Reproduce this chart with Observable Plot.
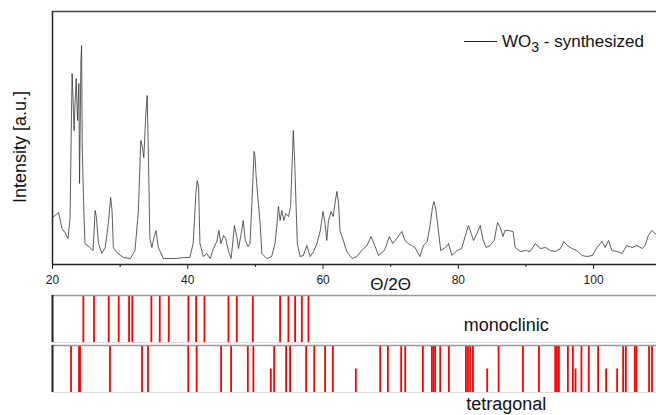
<!DOCTYPE html>
<html>
<head>
<meta charset="utf-8">
<script src="https://cdn.jsdelivr.net/npm/d3@7"></script>
<script src="https://cdn.jsdelivr.net/npm/@observablehq/plot@0.6"></script>
<style>
  html, body { margin: 0; padding: 0; background: #fff; overflow: hidden; }
  #wrap { position: relative; width: 656px; height: 415px; overflow: hidden; font-family: "Liberation Sans", Arial, sans-serif; }
  #wrap svg { display: block; }
  #legend { position: absolute; left: 464px; top: 33px; font-size: 17px; line-height: 17px; white-space: nowrap; color: #111; }
  #legend .sw { display: inline-block; width: 33px; height: 0; border-top: 1px solid #222; vertical-align: 5px; margin-right: 5px; }
  #legend sub { font-size: 14px; line-height: 0; vertical-align: -5px; }
</style>
</head>
<body>
<div id="wrap">
  <div id="main"></div>
  <div id="mono"></div>
  <div id="tetra"></div>
  <div id="legend"><span class="sw"></span>WO<sub>3</sub> - synthesized</div>
</div>
<script>
// ---- data ----
const twoTheta = [20.0,20.9,21.4,21.85,22.3,22.6,22.8,22.9,23.2,23.3,23.5,23.7,23.9,24.0,24.2,24.3,24.4,24.6,24.8,25.5,26.0,26.3,26.5,26.8,27.3,27.8,28.25,28.6,28.8,29.0,29.5,30.5,31.5,32.2,32.7,33.05,33.3,33.5,33.8,34.0,34.2,34.4,34.7,35.0,35.3,35.65,36.4,37.4,38.4,39.35,40.3,40.8,41.2,41.4,41.6,41.8,42.3,42.8,43.3,43.8,44.3,44.6,44.9,45.3,45.6,46.0,46.4,46.6,46.9,47.25,47.5,47.9,48.2,48.5,48.9,49.2,49.5,49.8,49.95,50.1,50.35,50.7,50.95,51.7,52.4,52.9,53.2,53.4,53.65,53.9,54.2,54.5,54.9,55.2,55.5,55.6,55.8,56.0,56.2,56.6,57.1,57.6,58.1,58.6,59.1,59.6,60.0,60.3,60.55,60.8,61.2,61.5,61.8,62.05,62.3,62.5,63.0,63.5,64.3,65.0,65.7,66.5,67.1,67.7,68.2,68.9,69.2,69.8,70.3,70.9,71.65,72.1,72.6,73.1,73.6,74.3,74.85,75.4,75.8,76.2,76.4,76.7,77.1,77.4,78.1,78.55,79.05,79.8,80.5,81.0,81.5,81.9,82.25,82.75,83.25,83.6,84.1,84.7,85.3,85.8,86.2,86.6,86.9,87.4,88.1,88.4,89.2,89.9,90.6,91.4,92.1,92.9,93.6,94.3,95.1,95.6,96.1,96.8,97.5,98.3,99.0,99.8,100.5,101.25,101.7,102.2,102.7,103.5,104.2,104.9,105.7,106.4,107.2,107.6,108.1,108.6,109.1,109.5];
const intensity = [47,52,36,32,26,47,147,191,134,156,186,144,181,81,204,219,117,61,21,17,14,54,47,21,11,17,41,67,54,17,12,7,6,14,54,124,117,107,151,169,101,26,17,27,34,17,6,6,6,7,7,21,71,84,78,21,8,11,6,16,23,34,21,29,26,14,6,18,39,28,16,31,44,24,18,21,64,113,108,89,68,41,11,6,8,21,41,58,44,54,44,51,48,58,114,134,104,61,21,8,9,19,8,13,21,34,53,41,24,44,53,48,63,73,61,34,24,13,6,8,14,19,28,18,9,13,16,28,21,26,33,24,21,19,17,8,19,23,38,58,63,54,31,14,17,21,9,14,16,28,39,31,24,31,39,26,17,19,24,42,37,28,34,34,33,17,13,14,13,21,16,17,14,13,16,23,19,16,14,9,8,9,17,23,17,24,14,13,11,19,17,19,16,19,29,34,31,30];

const monoclinicLines = [24.56,26.14,28.31,29.79,31.32,31.80,34.62,35.86,37.19,40.09,41.23,42.46,46.01,47.25,49.62,53.65,54.88,55.87,56.86,57.84];
const tetragonalLines = [22.74,23.92,24.07,28.5,33.24,34.12,40.07,41.31,44.93,46.41,48.88,49.7,52.77,54.54,55.13,57.5,58.7,60.3,61.45,68.45,69.59,71.55,72.15,74.76,76.09,76.33,76.58,77.32,78.6,81.12,81.42,81.76,82.16,85.95,89.55,91.92,94.33,94.58,94.87,96.2,96.94,98.2,99.29,100.67,104.37,104.77,106.1,106.34,108.2,108.64];
const tetragonalWeak = [52.28,64.85,84.27,97.33,101.85,103.48];

const majorTicks = [20,40,60,80,100];
const minorTicks = [30,50,70,90];
const xTitle = "Θ/2Θ";
const yTitle = "Intensity [a.u.]";
const panelNames = ["monoclinic","tetragonal"];

// ---- build ----
const trace = twoTheta.map((t, i) => ({t, v: intensity[i]}));
const xDomain = [20, 109.3];
const font = "Liberation Sans, Arial, sans-serif";

const main = Plot.plot({
  width: 656, height: 294,
  marginLeft: 52, marginRight: 0, marginTop: 11, marginBottom: 30,
  style: {fontFamily: font, fontSize: "12px", color: "#222", background: "transparent"},
  x: {domain: xDomain, label: null},
  y: {domain: [0, 253], axis: null},
  marks: [
    Plot.line(trace, {x: "t", y: "v", stroke: "#333", strokeWidth: 0.8}),
    Plot.ruleY([0], {stroke: "#222", strokeWidth: 1.5}),
    Plot.ruleY([253], {stroke: "#444", strokeWidth: 1.5}),
    Plot.ruleX([20], {stroke: "#222", strokeWidth: 1.5}),
    Plot.axisX(majorTicks, {tickSize: 5, tickPadding: 6, label: null, stroke: "#222", fill: "#222"}),
    Plot.axisX(minorTicks, {tickSize: 3, tickFormat: () => "", label: null, stroke: "#222"}),
    Plot.text([{label: xTitle, t: 70}], {x: "t", text: "label", frameAnchor: "bottom", lineAnchor: "middle", dy: 20, fontSize: 17, fill: "#111"}),
    Plot.text([yTitle], {frameAnchor: "left", textAnchor: "middle", lineAnchor: "middle", rotate: -90, dx: -32, dy: 9, fontSize: 18, fill: "#111"})
  ]
});
document.getElementById("main").append(main);

function panel(lines, weak, name, height, mt, mb, anchor, labelDy) {
  const data = lines.map(x => ({x, h: 1})).concat(weak.map(x => ({x, h: 0.5})));
  return Plot.plot({
    width: 656, height,
    marginLeft: 52, marginRight: 0, marginTop: mt, marginBottom: mb,
    style: {fontFamily: font, fontSize: "18px", color: "#111", background: "transparent"},
    x: {domain: xDomain, axis: null},
    y: {domain: [0, 1], axis: null},
    marks: [
      Plot.ruleX(data, {x: "x", y1: 0, y2: "h", stroke: "#ff0000", strokeWidth: 1.8}),
      Plot.ruleY([1], {stroke: "#999", strokeWidth: 1.5}),
      Plot.ruleY([0], {stroke: "#ddd", strokeWidth: 1}),
      Plot.ruleX([20], {stroke: "#222", strokeWidth: 2}),
      Plot.text([{label: name, x: 87.1}], {x: "x", text: "label", frameAnchor: anchor, lineAnchor: "middle", dy: labelDy, fontSize: 18, fill: "#111"})
    ]
  });
}
// monoclinic box: y ~294..341 ; tetragonal box: y 345..392
document.getElementById("mono").append(panel(monoclinicLines, [], panelNames[0], 50, 1, 2, "middle", 6));
document.getElementById("tetra").append(panel(tetragonalLines, tetragonalWeak, panelNames[1], 71, 1, 23, "bottom", 12));
</script>
</body>
</html>
